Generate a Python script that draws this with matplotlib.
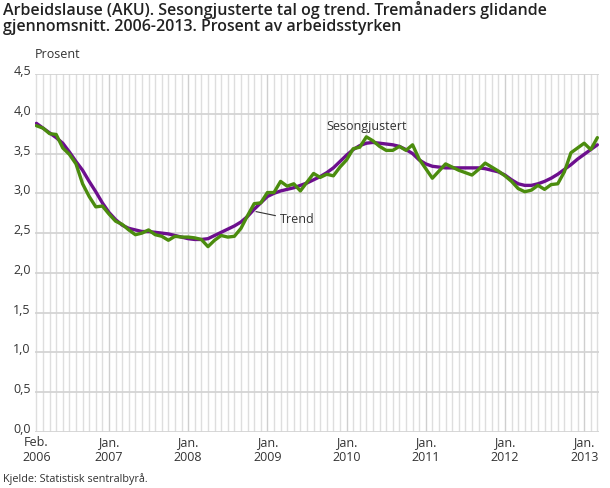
import numpy as np
import matplotlib
matplotlib.use('Agg')
import matplotlib.pyplot as plt
import matplotlib.transforms as mtransforms

plt.rcParams['font.family'] = ['Open Sans', 'DejaVu Sans']

# monthly points, Feb. 2006 .. Mar. 2013 (three-month moving averages)
sesong = [3.85, 3.82, 3.75, 3.74, 3.57, 3.49, 3.37, 3.12, 2.96, 2.83,
          2.84, 2.74, 2.65, 2.61, 2.54, 2.48, 2.50, 2.54, 2.48, 2.46,
          2.41, 2.46, 2.45, 2.45, 2.44, 2.42, 2.33, 2.41, 2.47, 2.45,
          2.46, 2.56, 2.72, 2.87, 2.88, 3.01, 3.01, 3.15, 3.09, 3.12,
          3.03, 3.14, 3.25, 3.20, 3.24, 3.22, 3.33, 3.42, 3.56, 3.58,
          3.71, 3.66, 3.59, 3.54, 3.54, 3.59, 3.54, 3.61, 3.43, 3.31,
          3.19, 3.28, 3.37, 3.33, 3.29, 3.26, 3.23, 3.30, 3.38, 3.33,
          3.28, 3.22, 3.15, 3.06, 3.02, 3.04, 3.10, 3.05, 3.11, 3.12,
          3.27, 3.51, 3.57, 3.63, 3.55, 3.70]
trend = [3.88, 3.82, 3.76, 3.70, 3.63, 3.52, 3.40, 3.29, 3.15, 3.02,
         2.88, 2.76, 2.67, 2.60, 2.56, 2.54, 2.52, 2.52, 2.51, 2.50,
         2.49, 2.47, 2.45, 2.43, 2.42, 2.42, 2.43, 2.47, 2.51, 2.55,
         2.59, 2.64, 2.71, 2.80, 2.88, 2.96, 3.00, 3.03, 3.05, 3.07,
         3.10, 3.13, 3.17, 3.21, 3.26, 3.32, 3.40, 3.48, 3.55, 3.60,
         3.63, 3.64, 3.63, 3.62, 3.61, 3.59, 3.55, 3.50, 3.42, 3.37,
         3.34, 3.33, 3.32, 3.32, 3.32, 3.32, 3.32, 3.32, 3.31, 3.29,
         3.27, 3.23, 3.17, 3.12, 3.10, 3.10, 3.12, 3.15, 3.19, 3.24,
         3.30, 3.36, 3.43, 3.49, 3.55, 3.61]
tick_pos = [0, 11, 23, 35, 47, 59, 71, 83]
tick_labels = ['Feb.\n2006', 'Jan.\n2007', 'Jan.\n2008', 'Jan.\n2009',
               'Jan.\n2010', 'Jan.\n2011', 'Jan.\n2012', 'Jan.\n2013']
y_ticks = [0.0, 0.5, 1.0, 1.5, 2.0, 2.5, 3.0, 3.5, 4.0, 4.5]

months = np.arange(len(sesong))

fig = plt.figure(figsize=(6.10, 4.88), dpi=100)
ax = fig.add_axes([35/610, 1-432/488, 564/610, 358/488])

green = '#4b8c0e'
purple = '#6d0f8e'
txt = '#333333'

# monthly vertical grid, january lines a bit darker
for m in months:
    c = '#cfcfcf' if (m - 11) % 12 == 0 else '#dedede'
    ax.axvline(m, color=c, lw=1.0, zorder=0)
for v in y_ticks:
    ax.axhline(v, color='#d4d4d4', lw=1.3, zorder=0)

ax.plot(months, trend, color=purple, lw=2.4, solid_capstyle='round',
        solid_joinstyle='round', zorder=3)
ax.plot(months, sesong, color=green, lw=2.4, solid_capstyle='round',
        solid_joinstyle='round', zorder=4)

ax.set_xlim(-0.21, 85.25)
ax.set_ylim(0, 4.5)
ax.set_yticks(y_ticks)
ax.set_yticklabels([f'{v:.1f}'.replace('.', ',') for v in y_ticks])
ax.set_xticks(tick_pos)
ax.set_xticklabels(tick_labels, linespacing=1.15)
ax.tick_params(axis='both', length=0, labelsize=9, colors=txt)
ax.tick_params(axis='y', pad=3)
ax.tick_params(axis='x', pad=3)
for s in ax.spines.values():
    s.set_visible(False)

# y labels sit a little above their grid lines
shift = mtransforms.ScaledTranslation(0, 4/100, fig.dpi_scale_trans)
for lab in ax.get_yticklabels():
    lab.set_transform(lab.get_transform() + shift)

ax.text(50.1, 3.84, 'Sesongjustert', ha='center', va='center',
        fontsize=9, color=txt)
ax.plot([33.3, 36.2], [2.77, 2.72], color='#333333', lw=0.8, zorder=5)
ax.text(36.9, 2.67, 'Trend', ha='left', va='center', fontsize=9, color=txt)

fig.text(3/610, 1-1/488,
         'Arbeidslause (AKU). Sesongjusterte tal og trend. Tremånaders glidande\n'
         'gjennomsnitt. 2006-2013. Prosent av arbeidsstyrken',
         ha='left', va='top', fontsize=11.5, fontweight='semibold',
         color='#222222', linespacing=1.0)
fig.text(35/610, 1-54/488, 'Prosent', ha='left', va='center',
         fontsize=9, color=txt)
fig.text(3/610, 1-479/488, 'Kjelde: Statistisk sentralbyrå.', ha='left',
         va='center', fontsize=7.8, color=txt)

fig.savefig('out.png', dpi=100)
